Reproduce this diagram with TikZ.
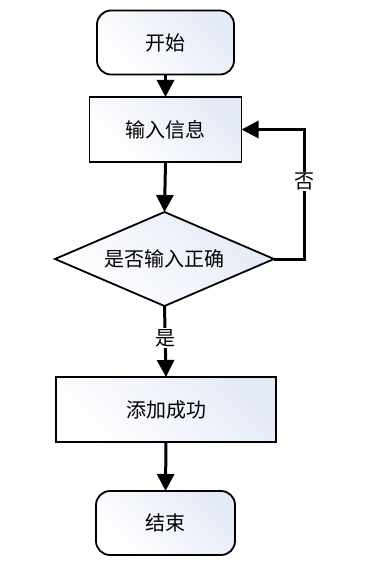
\documentclass[tikz,border=0pt]{standalone}
\usepackage{fontspec}
\newfontfamily\cjk{Noto Sans CJK SC}
\usetikzlibrary{shapes.geometric,arrows.meta}
\definecolor{gradc}{HTML}{E4EAF6}
\tikzset{
  base/.style={draw=black, line width=1.8pt, shade, left color=gradc, right color=white, shading angle=-45,
    font=\cjk\fontsize{20}{24}\selectfont, inner sep=0pt, outer sep=0pt, text=black},
  termbox/.style={base, rectangle, rounded corners=14pt},
  procbox/.style={base, rectangle},
  decbox/.style={base, diamond, aspect=2.33},
  conn/.style={line width=3pt, -{Triangle[length=17pt,width=17pt]}},
  lbl/.style={font=\cjk\fontsize{20}{24}\selectfont, fill=white, inner sep=1pt, text=black}
}
\begin{document}
\begin{tikzpicture}[x=1pt,y=-1pt]
\useasboundingbox (0,0) rectangle (381,575);
\node[termbox, minimum width=137pt, minimum height=64pt] (start) at (165.5,42.5) {开始};
\node[procbox, minimum width=152pt, minimum height=65pt] (inp) at (165.5,129.5) {输入信息};
\node[decbox, minimum width=219pt, minimum height=94pt] (dec) at (164.5,259) {是否输入正确};
\node[procbox, minimum width=220pt, minimum height=65pt] (add) at (166,409.5) {添加成功};
\node[termbox, minimum width=139pt, minimum height=64pt] (end) at (165.5,523) {结束};
\coordinate (lp) at (304,0);
\draw[conn] (start.south) -- (inp.north);
\draw[conn] (inp.south) -- (dec.north);
\draw[conn] (dec.south) -- node[lbl, pos=0.45] (yes) {是} (add.north);
\draw[conn] (add.south) -- (end.north);
\draw[conn] (dec.east) -- (dec.east -| lp) -- node[lbl, pos=0.6] (no) {否} (inp.east -| lp) -- (inp.east);
\end{tikzpicture}
\end{document}
